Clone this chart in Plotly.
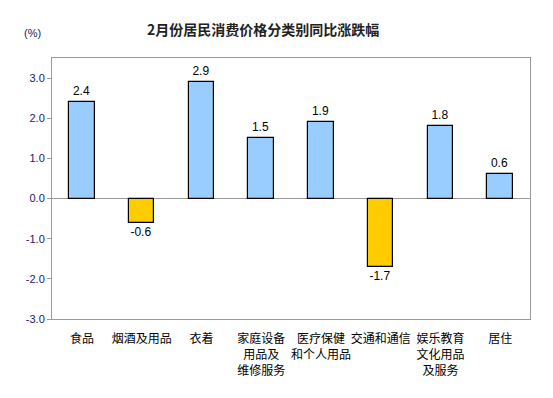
import plotly.graph_objects as go

categories = ["食品", "烟酒及用品", "衣着", "家庭设备<br>用品及<br>维修服务", "医疗保健<br>和个人用品",
              "交通和通信", "娱乐教育<br>文化用品<br>及服务", "居住"]
values = [2.4, -0.6, 2.9, 1.5, 1.9, -1.7, 1.8, 0.6]
tick_vals = [-3, -2, -1, 0, 1, 2, 3]
tick_text = ["-3.0", "-2.0", "-1.0", "0.0", "1.0", "2.0", "3.0"]

colors = ["#99CCFF" if v >= 0 else "#FFCC00" for v in values]
labels = [f"{v:.1f}" for v in values]

fig = go.Figure(go.Bar(
    x=list(range(len(categories))), y=values,
    marker=dict(color=colors, line=dict(color="black", width=1.2)),
    width=0.43,
    text=labels, textposition="outside", cliponaxis=False,
    textfont=dict(family="Liberation Sans, Arial", size=12, color="black"),
))

# page body has an 8px default margin, so the figure is sized to fit
fig.update_layout(
    width=545, height=390,
    margin=dict(l=44, r=23, t=50, b=79, autoexpand=False),
    plot_bgcolor="white", paper_bgcolor="white",
    showlegend=False,
    bargap=0,
    title=dict(text="<b>2月份居民消费价格分类别同比涨跌幅</b>", x=0.468, xanchor="center", y=0.944, yanchor="middle",
               font=dict(family="Noto Sans CJK SC", size=14, color="#222222")),
    annotations=[dict(text="(%)", xref="paper", yref="paper", x=-0.04, y=1.096, xanchor="center", yanchor="middle",
                      showarrow=False, font=dict(family="Liberation Sans, Arial", size=11, color="#1a1a66"))],
)
fig.update_xaxes(
    tickmode="array", tickvals=list(range(len(categories))), ticktext=categories,
    range=[-0.5, len(categories) - 0.5], automargin=False, tickangle=0, ticklabelstandoff=9,
    showline=True, linecolor="#999999", linewidth=1, mirror=True,
    ticks="", showgrid=False, zeroline=False,
    tickfont=dict(family="Noto Sans CJK SC", size=12, color="black"),
)
fig.update_yaxes(
    range=[-3, 3.5], tickmode="array", tickvals=tick_vals, ticktext=tick_text, automargin=False,
    showline=True, linecolor="#999999", linewidth=1, mirror=True,
    ticks="outside", ticklen=4, tickcolor="#999999",
    showgrid=False, zeroline=True, zerolinecolor="#999999", zerolinewidth=1,
    tickfont=dict(family="Liberation Sans, Arial", size=11, color="#1a1a66"),
)

fig.write_html("out.html")
